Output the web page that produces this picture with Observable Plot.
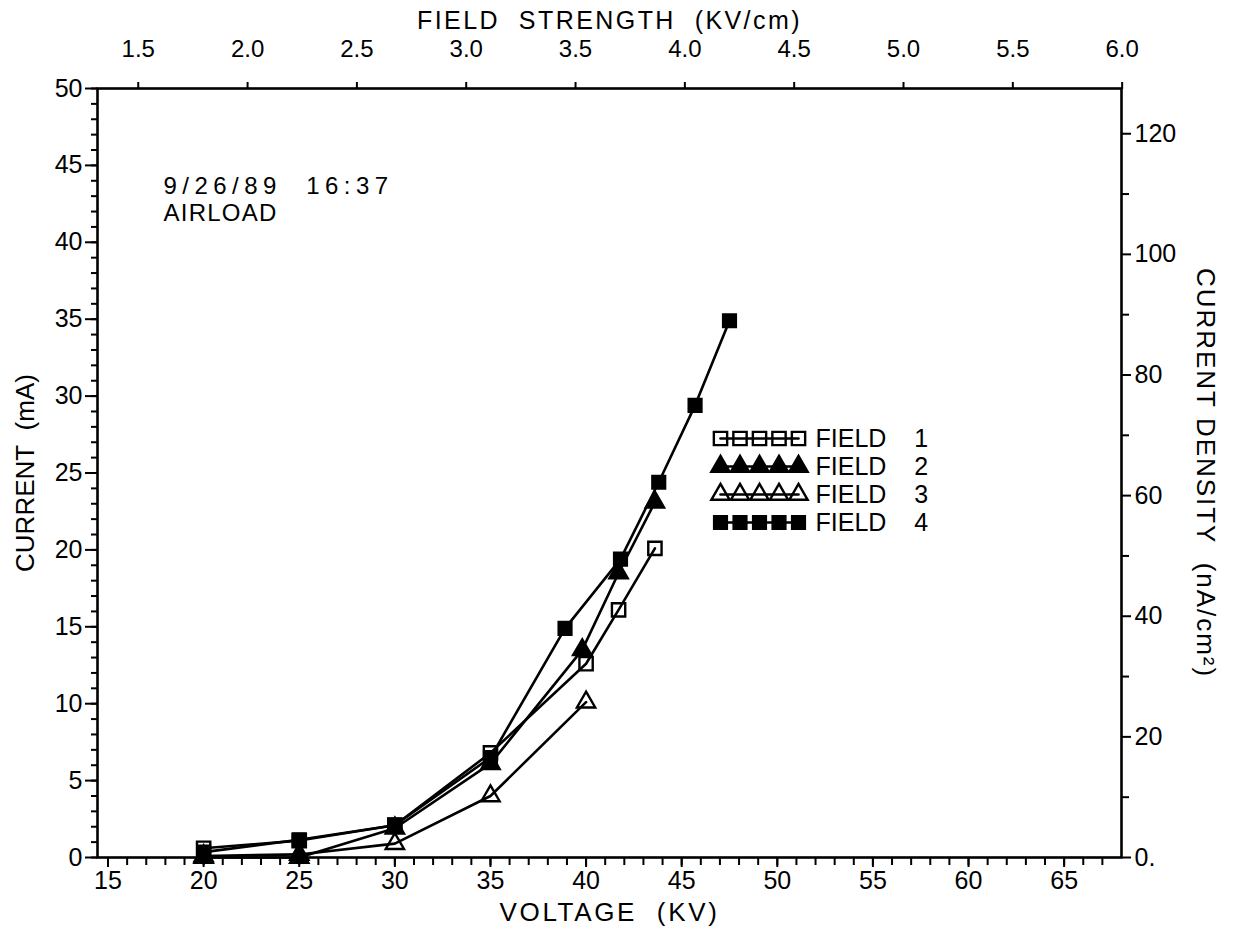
<!DOCTYPE html>
<html>
<head>
<meta charset="utf-8">
<script src="https://cdn.jsdelivr.net/npm/d3@7"></script>
<script src="https://cdn.jsdelivr.net/npm/@observablehq/plot@0.6"></script>
<style>
html, body { margin: 0; padding: 0; background: #fff; }
#wrap { position: relative; width: 1233px; height: 937px; overflow: hidden; }
#chart { position: absolute; left: 0; top: 0; }
#legend { position: absolute; left: 700px; top: 420px; }
</style>
</head>
<body>
<div id="wrap"><div id="chart"></div><div id="legend"></div></div>
<script>
// ---- data ----
const fields = ["FIELD 1", "FIELD 2", "FIELD 3", "FIELD 4"];

const voltage1 = [20, 25, 30, 35, 40, 41.7, 43.6];
const current1 = [0.6, 1.1, 2.1, 6.8, 12.6, 16.1, 20.1];

const voltage2 = [20, 25, 30, 35, 39.8, 41.7, 43.6];
const current2 = [0.0, 0.0, 1.9, 6.1, 13.5, 18.5, 23.1];

const voltage3 = [20, 25, 30, 35, 40];
const current3 = [0.1, 0.2, 0.9, 4.0, 10.1];

const voltage4 = [20, 25, 30, 35, 38.9, 41.8, 43.8, 45.7, 47.5];
const current4 = [0.35, 1.15, 2.1, 6.5, 14.9, 19.4, 24.4, 29.4, 34.9];

const voltageTicks = [15, 20, 25, 30, 35, 40, 45, 50, 55, 60, 65];
const currentTicks = [0, 5, 10, 15, 20, 25, 30, 35, 40, 45, 50];
const fieldTicks = [1.5, 2.0, 2.5, 3.0, 3.5, 4.0, 4.5, 5.0, 5.5, 6.0];
const densityTicks = [0, 20, 40, 60, 80, 100, 120];
const densityMinorTicks = [10, 30, 50, 70, 90, 110];
const legendSlots = [0, 1, 2, 3, 4];

// relations between the secondary axes and the primary ones
const kvPerField = 11.434, kvOffset = -0.57;      // voltage = kvOffset + kvPerField * field
const densityPerMA = 2.55;                         // nA/cm^2 per mA
const f2v = f => kvOffset + kvPerField * f;
const v2f = v => (v - kvOffset) / kvPerField;

// ---- build tables ----
const seriesX = [voltage1, voltage2, voltage3, voltage4];
const seriesY = [current1, current2, current3, current4];
const rows = fields.flatMap((f, i) => seriesX[i].map((v, j) => ({field: f, voltage: v, current: seriesY[i][j]})));

// ---- styles (kept separate from data) ----
const look = {
  "FIELD 1": {symbol: "square", fill: "none", r: 7.5},
  "FIELD 2": {symbol: "triangle", fill: "black", r: 6.8},
  "FIELD 3": {symbol: "triangle", fill: "none", r: 6.8},
  "FIELD 4": {symbol: "square", fill: "black", r: 7.2}
};
const FONT = "'Liberation Sans', Arial, sans-serif";
const nb = "\u00a0";

const seriesMarks = [];
for (const f of ["FIELD 3", "FIELD 1", "FIELD 2", "FIELD 4"]) {
  const d = rows.filter(r => r.field === f);
  seriesMarks.push(Plot.line(d, {x: "voltage", y: "current", stroke: "black", strokeWidth: 2.6}));
}
for (const f of ["FIELD 3", "FIELD 1", "FIELD 2", "FIELD 4"]) {
  const d = rows.filter(r => r.field === f);
  seriesMarks.push(Plot.dot(d, {x: "voltage", y: "current", symbol: look[f].symbol, r: look[f].r,
    fill: look[f].fill, stroke: "black", strokeWidth: 2.4}));
}

const dateText = "9/26/89" + nb + nb + "16:37";
const fieldTitle = "FIELD" + nb + nb + "STRENGTH" + nb + nb + "(KV/cm)";
const voltTitle = "VOLTAGE" + nb + nb + "(KV)";
const curTitle = "CURRENT" + nb + nb + "(mA)";
const denTitle = "CURRENT" + nb + "DENSITY" + nb + nb + "(nA/cm²)";

const TICKFS = 25;

const chart = Plot.plot({
  width: 1233,
  height: 937,
  marginLeft: 97,
  marginRight: 112,
  marginTop: 88,
  marginBottom: 80,
  style: {fontFamily: FONT, fontSize: "24px", color: "black", background: "white", overflow: "visible"},
  x: {domain: [14.45, 68.0]},
  y: {domain: [0, 50]},
  marks: [
    // bottom axis
    Plot.axisX({anchor: "bottom", ticks: d3.range(15, 68, 1), tickSize: 8, tickFormat: () => "", label: null, strokeWidth: 2}),
    Plot.axisX({anchor: "bottom", ticks: voltageTicks, tickSize: 10, tickPadding: 4, tickFormat: d => String(d), label: null, strokeWidth: 2, fontSize: TICKFS}),
    // top axis (field strength)
    Plot.axisX({anchor: "top", ticks: fieldTicks.map(f2v), tickSize: 7, tickPadding: 25,
      tickFormat: v => v2f(v).toFixed(1), label: null, strokeWidth: 2, fontSize: 24}),
    // left axis
    Plot.axisY({anchor: "left", ticks: d3.range(0, 51, 1), tickSize: 6, tickFormat: () => "", label: null, strokeWidth: 2}),
    Plot.axisY({anchor: "left", ticks: currentTicks, tickSize: 12, tickPadding: 3, tickFormat: d => String(d), label: null, strokeWidth: 2, fontSize: TICKFS}),
    // right axis (current density)
    Plot.axisY({anchor: "right", ticks: densityMinorTicks.map(d => d / densityPerMA), tickSize: 7, tickFormat: () => "", label: null, strokeWidth: 2}),
    Plot.axisY({anchor: "right", ticks: densityTicks.map(d => d / densityPerMA), tickSize: 9, tickPadding: 4,
      tickFormat: v => { const d = Math.round(v * densityPerMA); return d === 0 ? "0." : String(d); },
      label: null, strokeWidth: 2, fontSize: TICKFS}),
    Plot.frame({stroke: "black", strokeWidth: 2.6}),
    ...seriesMarks,
    // annotations
    Plot.text([dateText], {frameAnchor: "top-left", dx: 66, dy: 98, text: d => d, textAnchor: "start", lineAnchor: "middle", fontSize: 24}),
    Plot.text(["AIRLOAD"], {frameAnchor: "top-left", dx: 66, dy: 125, text: d => d, textAnchor: "start", lineAnchor: "middle", fontSize: 24}),
    // axis titles
    Plot.text([fieldTitle], {frameAnchor: "top", dy: -68, text: d => d, textAnchor: "middle", lineAnchor: "middle", fontSize: 25}),
    Plot.text([voltTitle], {frameAnchor: "bottom", dy: 55, text: d => d, textAnchor: "middle", lineAnchor: "middle", fontSize: 26}),
    Plot.text([curTitle], {frameAnchor: "left", dx: -72, text: d => d, rotate: -90, textAnchor: "middle", lineAnchor: "middle", fontSize: 26}),
    Plot.text([denTitle], {frameAnchor: "right", dx: 84, text: d => d, rotate: 90, textAnchor: "middle", lineAnchor: "middle", fontSize: 26})
  ]
});
document.getElementById("chart").appendChild(chart);

// ---- legend (overlay inside plot area) ----
const legendRows = fields.flatMap(f => legendSlots.map(s => ({field: f, slot: s})));
const legendMarks = [];
for (const f of fields) {
  const d = legendRows.filter(r => r.field === f);
  legendMarks.push(Plot.line(d, {x: "slot", y: "field", stroke: "black", strokeWidth: 2.6}));
  legendMarks.push(Plot.dot(d, {x: "slot", y: "field", symbol: look[f].symbol, r: look[f].r,
    fill: look[f].fill, stroke: "black", strokeWidth: 2.4}));
}
legendMarks.push(Plot.text(fields, {x: () => 4, y: d => d, dx: 17, textAnchor: "start", lineAnchor: "middle",
  text: d => d.replace(" ", nb + nb + nb + nb), fontSize: 25}));

const legend = Plot.plot({
  width: 260,
  height: 120,
  margin: 0,
  style: {fontFamily: FONT, fontSize: "25px", color: "black", background: "transparent", overflow: "visible"},
  x: {domain: [0, 4], range: [20, 98], axis: null},
  y: {type: "point", domain: fields, range: [18, 102], padding: 0, axis: null},
  marks: legendMarks
});
document.getElementById("legend").appendChild(legend);

// ---- fit widths of plotter-style lettering ----
function fitWidth(svg, str, target) {
  for (const t of svg.querySelectorAll("text")) {
    if (t.textContent === str) {
      const len = t.getComputedTextLength();
      const sp = (target - len) / str.length;
      if (sp > 0) t.style.letterSpacing = sp.toFixed(2) + "px";
    }
  }
}
fitWidth(chart, dateText, 230);
fitWidth(chart, "AIRLOAD", 114);
fitWidth(chart, fieldTitle, 385);
fitWidth(chart, voltTitle, 220);
fitWidth(chart, curTitle, 190);
fitWidth(chart, denTitle, 410);
</script>
</body>
</html>
